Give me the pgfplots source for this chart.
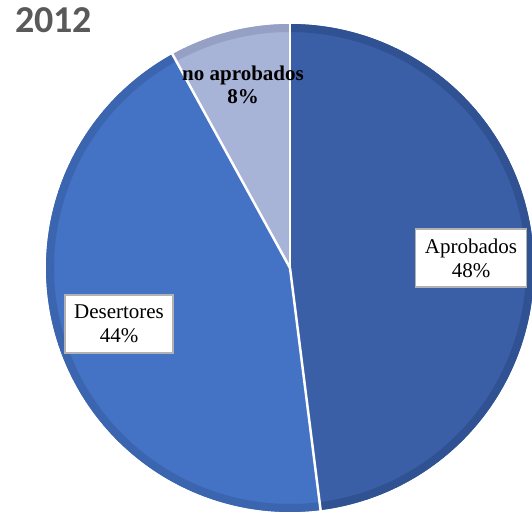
\documentclass[border=0pt]{standalone}
\usepackage{pgfplots}
\pgfplotsset{compat=1.18}
\usepackage{fontspec}
\setmainfont{Liberation Serif}
\newfontfamily\titlefont{Carlito}
\definecolor{cA}{RGB}{58,95,166}
\definecolor{cAd}{RGB}{49,82,146}
\definecolor{cD}{RGB}{68,114,196}
\definecolor{cDd}{RGB}{60,101,176}
\definecolor{cN}{RGB}{168,179,216}
\definecolor{cNd}{RGB}{150,160,196}
\definecolor{tgrey}{RGB}{89,89,89}
\begin{document}
\begin{tikzpicture}
\begin{axis}[
  at={(0,0)}, anchor=south west,
  scale only axis, width=532pt, height=513pt,
  xmin=0, xmax=532, ymin=0, ymax=513,
  hide axis, clip=true,
]
% slices: Aprobados 48, Desertores 44, no aprobados 8 (percent, clockwise from top)
\addplot[fill=cA, draw=none, domain=0:48, samples=120]
  ({290+244*sin(3.6*x)},{245+244*cos(3.6*x)}) -- (290,245) -- cycle;
\addplot[fill=cD, draw=none, domain=48:92, samples=120]
  ({290+244*sin(3.6*x)},{245+244*cos(3.6*x)}) -- (290,245) -- cycle;
\addplot[fill=cN, draw=none, domain=92:100, samples=40]
  ({290+244*sin(3.6*x)},{245+244*cos(3.6*x)}) -- (290,245) -- cycle;
% bevel along outer arcs
\addplot[draw=cAd, line width=8pt, domain=0:48, samples=120]
  ({290+240*sin(3.6*x)},{245+240*cos(3.6*x)});
\addplot[draw=cDd, line width=8pt, domain=48:92, samples=120]
  ({290+240*sin(3.6*x)},{245+240*cos(3.6*x)});
\addplot[draw=cNd, line width=8pt, domain=92:100, samples=40]
  ({290+240*sin(3.6*x)},{245+240*cos(3.6*x)});
% separators
\addplot[draw=white, line width=2.5pt, domain=0:1, samples=2]
  ({290+246*x*sin(3.6*0)},{245+246*x*cos(3.6*0)});
\addplot[draw=white, line width=2.5pt, domain=0:1, samples=2]
  ({290+246*x*sin(3.6*48)},{245+246*x*cos(3.6*48)});
\addplot[draw=white, line width=2.5pt, domain=0:1, samples=2]
  ({290+246*x*sin(3.6*92)},{245+246*x*cos(3.6*92)});
% labels
\node[fill=white, draw=gray!60, line width=1.5pt, align=center,
  minimum width=111pt, minimum height=58pt, inner sep=0pt,
  font=\fontsize{21}{24}\selectfont] at (471,255) {Aprobados\\48\%};
\node[fill=white, draw=gray!60, line width=1.5pt, align=center,
  minimum width=108pt, minimum height=58pt, inner sep=0pt,
  font=\fontsize{21}{24}\selectfont] at (119,189) {Desertores\\44\%};
\node[align=center, inner sep=0pt,
  font=\fontsize{21}{23}\selectfont\bfseries] at (243,428) {no aprobados\\8\%};
\node[anchor=base west, inner sep=0pt, text=tgrey,
  font=\titlefont\bfseries\fontsize{38}{44}\selectfont] at (15,480) {2012};
\end{axis}
\pgfresetboundingbox
\useasboundingbox (0,0) rectangle (532pt,513pt);
\end{tikzpicture}
\end{document}
